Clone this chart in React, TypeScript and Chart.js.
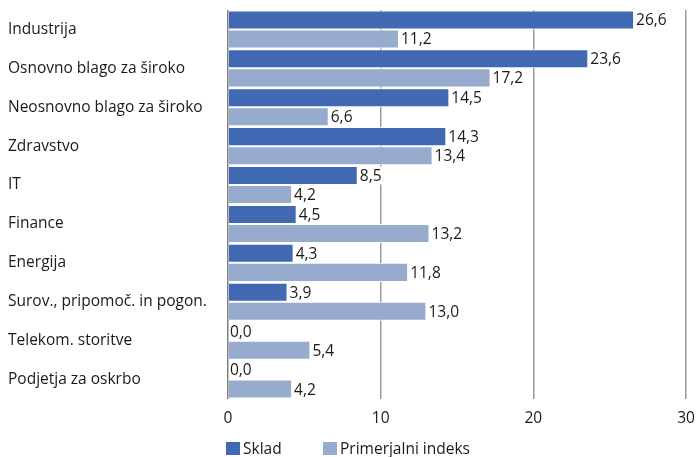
import React, { useEffect, useRef } from "react";
import { Chart, registerables } from "chart.js";

Chart.register(...registerables);

const categories = [
  "Industrija",
  "Osnovno blago za široko",
  "Neosnovno blago za široko",
  "Zdravstvo",
  "IT",
  "Finance",
  "Energija",
  "Surov., pripomoč. in pogon.",
  "Telekom. storitve",
  "Podjetja za oskrbo",
];
const skladValues = [26.6, 23.6, 14.5, 14.3, 8.5, 4.5, 4.3, 3.9, 0.0, 0.0];
const indeksValues = [11.2, 17.2, 6.6, 13.4, 4.2, 13.2, 11.8, 13.0, 5.4, 4.2];
const seriesNames = ["Sklad", "Primerjalni indeks"];
const xTicks = [0, 10, 20, 30];

const DARK = "#4169B3";
const LIGHT = "#97ABCE";
const FONT = "'Open Sans', 'Noto Sans', sans-serif";
const FS = 15.5;
const TEXT = "#1a1a1a";

const labelPlugin = {
  id: "barLabels",
  afterDatasetsDraw(chart: any) {
    const ctx = chart.ctx;
    ctx.save();
    ctx.font = `${FS}px ${FONT}`;
    ctx.textBaseline = "middle";
    ctx.textAlign = "left";
    chart.data.datasets.forEach((ds: any, di: number) => {
      const meta = chart.getDatasetMeta(di);
      meta.data.forEach((bar: any, i: number) => {
        const v = ds.data[i] as number;
        const txt = v.toFixed(1).replace(".", ",");
        const w = ctx.measureText(txt).width;
        const x = bar.x + 2;
        const y = bar.y;
        ctx.fillStyle = "#ffffff";
        ctx.fillRect(x - 1, y - 9, w + 3, 18);
        ctx.fillStyle = TEXT;
        ctx.fillText(txt, x, y + 1);
      });
    });
    ctx.restore();
  },
};

export default function App() {
  const ref = useRef<HTMLCanvasElement | null>(null);

  useEffect(() => {
    document.body.style.margin = "0";
    const canvas = ref.current;
    if (!canvas) return;
    const chart = new Chart(canvas, {
      type: "bar",
      data: {
        labels: categories,
        datasets: [
          {
            label: seriesNames[0],
            data: skladValues,
            backgroundColor: DARK,
            borderColor: "#ffffff",
            borderWidth: 1,
            categoryPercentage: 0.98,
            barPercentage: 1,
          },
          {
            label: seriesNames[1],
            data: indeksValues,
            backgroundColor: LIGHT,
            borderColor: "#ffffff",
            borderWidth: 1,
            categoryPercentage: 0.98,
            barPercentage: 1,
          },
        ],
      },
      options: {
        indexAxis: "y",
        animation: false,
        responsive: false,
        maintainAspectRatio: false,
        layout: { padding: { left: 8, right: 13, top: 10, bottom: 28 } },
        plugins: {
          legend: { display: false },
          tooltip: { enabled: false },
        },
        scales: {
          x: {
            min: 0,
            max: 30,
            afterBuildTicks(scale: any) {
              scale.ticks = xTicks.map((v) => ({ value: v }));
            },
            afterFit(scale: any) {
              scale.height = 30;
              scale.paddingLeft = 0;
              scale.paddingRight = 0;
            },
            border: { display: false },
            grid: {
              color: (c: any) => (c.tick && c.tick.value === 0 ? "#7f7f7f" : "#9a9a9a"),
              lineWidth: 1.5,
              drawTicks: false,
            },
            ticks: {
              padding: 10,
              color: TEXT,
              font: { family: FONT, size: FS },
              callback: (v: any) => String(v),
            },
          },
          y: {
            afterFit(scale: any) {
              scale.width = 220;
              scale.paddingTop = 0;
              scale.paddingBottom = 0;
            },
            border: { display: false },
            grid: { display: false, drawTicks: false },
            ticks: {
              crossAlign: "far",
              color: TEXT,
              font: { family: FONT, size: FS },
              padding: 0,
              autoSkip: false,
            },
          },
        },
      },
      plugins: [labelPlugin],
    });
    return () => chart.destroy();
  }, []);

  const legendItem = (color: string, text: string, left: number, textLeft: number) => (
    <>
      <div
        style={{
          position: "absolute",
          left,
          top: 442,
          width: 14,
          height: 13,
          background: color,
        }}
      />
      <div
        style={{
          position: "absolute",
          left: textLeft,
          top: 437,
          fontFamily: FONT,
          fontSize: FS,
          lineHeight: "22px",
          color: TEXT,
          whiteSpace: "nowrap",
        }}
      >
        {text}
      </div>
    </>
  );

  return (
    <div style={{ position: "relative", width: 699, height: 457, background: "#fff", overflow: "hidden" }}>
      <canvas ref={ref} width={699} height={457} style={{ position: "absolute", left: 0, top: 0 }} />
      {legendItem(DARK, seriesNames[0], 226, 243)}
      {legendItem(LIGHT, seriesNames[1], 323, 340)}
    </div>
  );
}
